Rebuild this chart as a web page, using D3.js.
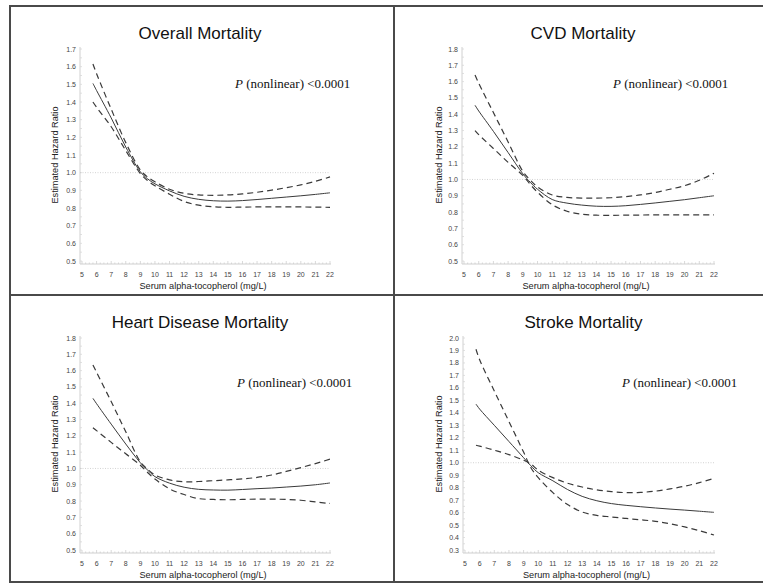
<!DOCTYPE html>
<html><head><meta charset="utf-8">
<script src="https://cdn.jsdelivr.net/npm/d3@7"></script>
<style>body{margin:0;background:#fff}svg{display:block}</style>
</head><body>
<script>
// ---- data ----
const xPoints = [5.75,6,7,8,9,9.5,10,11,12,13,14,15,16,17,18,19,20,21,22];
const xTicks = d3.range(5, 23);
const panelTitles = ["Overall Mortality","CVD Mortality","Heart Disease Mortality","Stroke Mortality"];
const pLabel = "(nonlinear) <0.0001";
const xLabel = "Serum alpha-tocopherol (mg/L)";
const yLabel = "Estimated Hazard Ratio";

const overallHR    = [1.505,1.465,1.31,1.145,1.005,0.965,0.937,0.897,0.866,0.849,0.841,0.839,0.842,0.848,0.855,0.862,0.869,0.877,0.886];
const overallUpper = [1.615,1.56,1.36,1.17,1.015,0.975,0.948,0.906,0.883,0.874,0.872,0.874,0.88,0.889,0.901,0.915,0.931,0.951,0.976];
const overallLower = [1.40,1.37,1.26,1.125,0.995,0.955,0.926,0.878,0.837,0.816,0.807,0.804,0.805,0.806,0.806,0.806,0.806,0.805,0.804];

const cvdHR    = [1.455,1.42,1.295,1.165,1.035,0.983,0.94,0.877,0.855,0.843,0.836,0.835,0.839,0.847,0.856,0.866,0.876,0.888,0.90];
const cvdUpper = [1.64,1.59,1.41,1.23,1.05,0.997,0.955,0.905,0.89,0.886,0.886,0.888,0.895,0.905,0.92,0.94,0.962,0.995,1.038];
const cvdLower = [1.30,1.275,1.19,1.105,1.025,0.97,0.922,0.845,0.805,0.787,0.781,0.78,0.781,0.782,0.783,0.783,0.783,0.783,0.783];

const heartHR    = [1.43,1.397,1.272,1.15,1.035,0.99,0.95,0.91,0.885,0.872,0.868,0.867,0.871,0.876,0.88,0.886,0.892,0.90,0.911];
const heartUpper = [1.635,1.59,1.41,1.225,1.04,0.995,0.96,0.93,0.918,0.92,0.925,0.93,0.936,0.945,0.96,0.982,1.005,1.03,1.057];
const heartLower = [1.25,1.232,1.16,1.09,1.02,0.975,0.935,0.875,0.84,0.815,0.81,0.808,0.81,0.812,0.812,0.81,0.805,0.795,0.785];

const strokeHR    = [1.47,1.43,1.30,1.17,1.04,0.975,0.92,0.855,0.785,0.73,0.695,0.672,0.658,0.647,0.637,0.628,0.62,0.611,0.602];
const strokeBandA = [1.91,1.825,1.575,1.33,1.085,0.96,0.88,0.76,0.665,0.605,0.578,0.565,0.553,0.542,0.53,0.51,0.485,0.455,0.42];
const strokeBandB = [1.14,1.133,1.10,1.065,1.02,0.99,0.94,0.88,0.835,0.805,0.782,0.768,0.76,0.762,0.772,0.79,0.812,0.84,0.875];

const yDomains = [[0.5,1.7],[0.5,1.8],[0.5,1.8],[0.3,2.0]];

const panelsData = [
  {hr: overallHR, bands: [overallUpper, overallLower]},
  {hr: cvdHR, bands: [cvdUpper, cvdLower]},
  {hr: heartHR, bands: [heartUpper, heartLower]},
  {hr: strokeHR, bands: [strokeBandA, strokeBandB]}
];

// ---- layout ----
const W = 763, H = 585;
const svg = d3.select("body").append("svg").attr("width", W).attr("height", H);
svg.append("rect").attr("width", W).attr("height", H).attr("fill", "#fff");

const panelBoxes = [
  {x0: 10, y0: 6, x5: 82, x22: 330, pX: 235, pY: 88},
  {x0: 394, y0: 6, x5: 464, x22: 714, pX: 613, pY: 88},
  {x0: 10, y0: 295, x5: 82, x22: 330, pX: 237, pY: 387},
  {x0: 394, y0: 295, x5: 465, x22: 714, pX: 622, pY: 387}
];

panelBoxes.forEach((b, i) => {
  const g = svg.append("g");
  const yTop = b.y0 + 43, yBot = b.y0 + 255;
  const xAxisY = b.y0 + 258;
  const x = d3.scaleLinear().domain([5, 22]).range([b.x5, b.x22]);
  const y = d3.scaleLinear().domain(yDomains[i]).range([yBot, yTop]);
  const axisX = b.x5 - 2;

  // title
  g.append("text").attr("x", (b.x5 + b.x22) / 2 - 6).attr("y", b.y0 + 27)
    .attr("text-anchor", "middle").attr("dominant-baseline", "central")
    .attr("font-family", "Liberation Sans, Arial, sans-serif").attr("font-size", 17)
    .attr("fill", "#111").text(panelTitles[i]);

  // y axis
  const yTicks = d3.range(Math.round(yDomains[i][0]*10), Math.round(yDomains[i][1]*10) + 1).map(v => v / 10);
  g.append("line").attr("x1", axisX).attr("x2", axisX).attr("y1", yTop - 2).attr("y2", xAxisY)
    .attr("stroke", "#d0d0d0").attr("stroke-width", 1);
  const yMinor = d3.range(Math.round(yDomains[i][0]*20), Math.round(yDomains[i][1]*20) + 1).map(v => v / 20);
  g.selectAll(".ymin").data(yMinor).join("line")
    .attr("x1", axisX).attr("x2", axisX + 2).attr("y1", d => y(d)).attr("y2", d => y(d))
    .attr("stroke", "#d8d8d8").attr("stroke-width", 0.8);
  g.selectAll(".ytl").data(yTicks).join("text")
    .attr("x", axisX - 4).attr("y", d => y(d)).attr("text-anchor", "end")
    .attr("dominant-baseline", "central")
    .attr("font-family", "Liberation Sans, Arial, sans-serif").attr("font-size", 7)
    .attr("fill", "#444").text(d => d3.format(".1f")(d));

  // x axis
  g.append("line").attr("x1", axisX).attr("x2", x(22) + 1).attr("y1", xAxisY).attr("y2", xAxisY)
    .attr("stroke", "#d0d0d0").attr("stroke-width", 1);
  const xMinor = d3.range(20, 89).map(v => v / 4);
  g.selectAll(".xmin").data(xMinor).join("line")
    .attr("x1", d => x(d)).attr("x2", d => x(d)).attr("y1", xAxisY).attr("y2", d => Number.isInteger(d) ? xAxisY - 3 : xAxisY - 1.5)
    .attr("stroke", "#cfcfcf").attr("stroke-width", 0.8);
  g.selectAll(".xtl").data(xTicks).join("text")
    .attr("x", d => x(d)).attr("y", b.y0 + 268).attr("text-anchor", "middle")
    .attr("dominant-baseline", "central")
    .attr("font-family", "Liberation Sans, Arial, sans-serif").attr("font-size", 7)
    .attr("fill", "#444").text(d => d);

  // axis labels
  g.append("text").attr("x", (b.x5 + b.x22) / 2 - 3).attr("y", b.y0 + 280)
    .attr("text-anchor", "middle").attr("dominant-baseline", "central")
    .attr("font-family", "Liberation Sans, Arial, sans-serif").attr("font-size", 9.2)
    .attr("fill", "#222").text(xLabel);
  g.append("text").attr("transform", `translate(${b.x0 + 45},${(yTop + yBot) / 2}) rotate(-90)`)
    .attr("text-anchor", "middle").attr("dominant-baseline", "central")
    .attr("font-family", "Liberation Sans, Arial, sans-serif").attr("font-size", 9.2)
    .attr("fill", "#222").text(yLabel);

  // reference line
  g.append("line").attr("x1", axisX).attr("x2", x(22)).attr("y1", y(1)).attr("y2", y(1))
    .attr("stroke", "#c8c8c8").attr("stroke-width", 0.8).attr("stroke-dasharray", "1,1.5");

  // curves
  const line = d3.line().x((d, k) => x(xPoints[k])).y(d => y(d)).curve(d3.curveCatmullRom.alpha(0.5));
  panelsData[i].bands.forEach(band => {
    g.append("path").attr("d", line(band)).attr("fill", "none")
      .attr("stroke", "#3a3a3a").attr("stroke-width", 1.2).attr("stroke-dasharray", "6,4");
  });
  g.append("path").attr("d", line(panelsData[i].hr)).attr("fill", "none")
    .attr("stroke", "#3a3a3a").attr("stroke-width", 1);

  // P annotation
  const t = g.append("text").attr("x", b.pX).attr("y", b.pY)
    .attr("font-family", "Liberation Serif, Times New Roman, serif").attr("font-size", 13)
    .attr("fill", "#111");
  t.append("tspan").attr("font-style", "italic").text("P");
  t.append("tspan").text(" " + pLabel);
});

// frame
const frame = svg.append("g").attr("stroke", "#4a4a4a").attr("stroke-width", 2).attr("fill", "none");
frame.append("line").attr("x1", 10).attr("x2", W).attr("y1", 6).attr("y2", 6);
frame.append("line").attr("x1", 10).attr("x2", W).attr("y1", 582).attr("y2", 582);
frame.append("line").attr("x1", 10).attr("x2", 10).attr("y1", 5).attr("y2", 583);
frame.append("line").attr("x1", 394).attr("x2", 394).attr("y1", 6).attr("y2", 582);
frame.append("line").attr("x1", 10).attr("x2", W).attr("y1", 295).attr("y2", 295);
</script>
</body></html>
